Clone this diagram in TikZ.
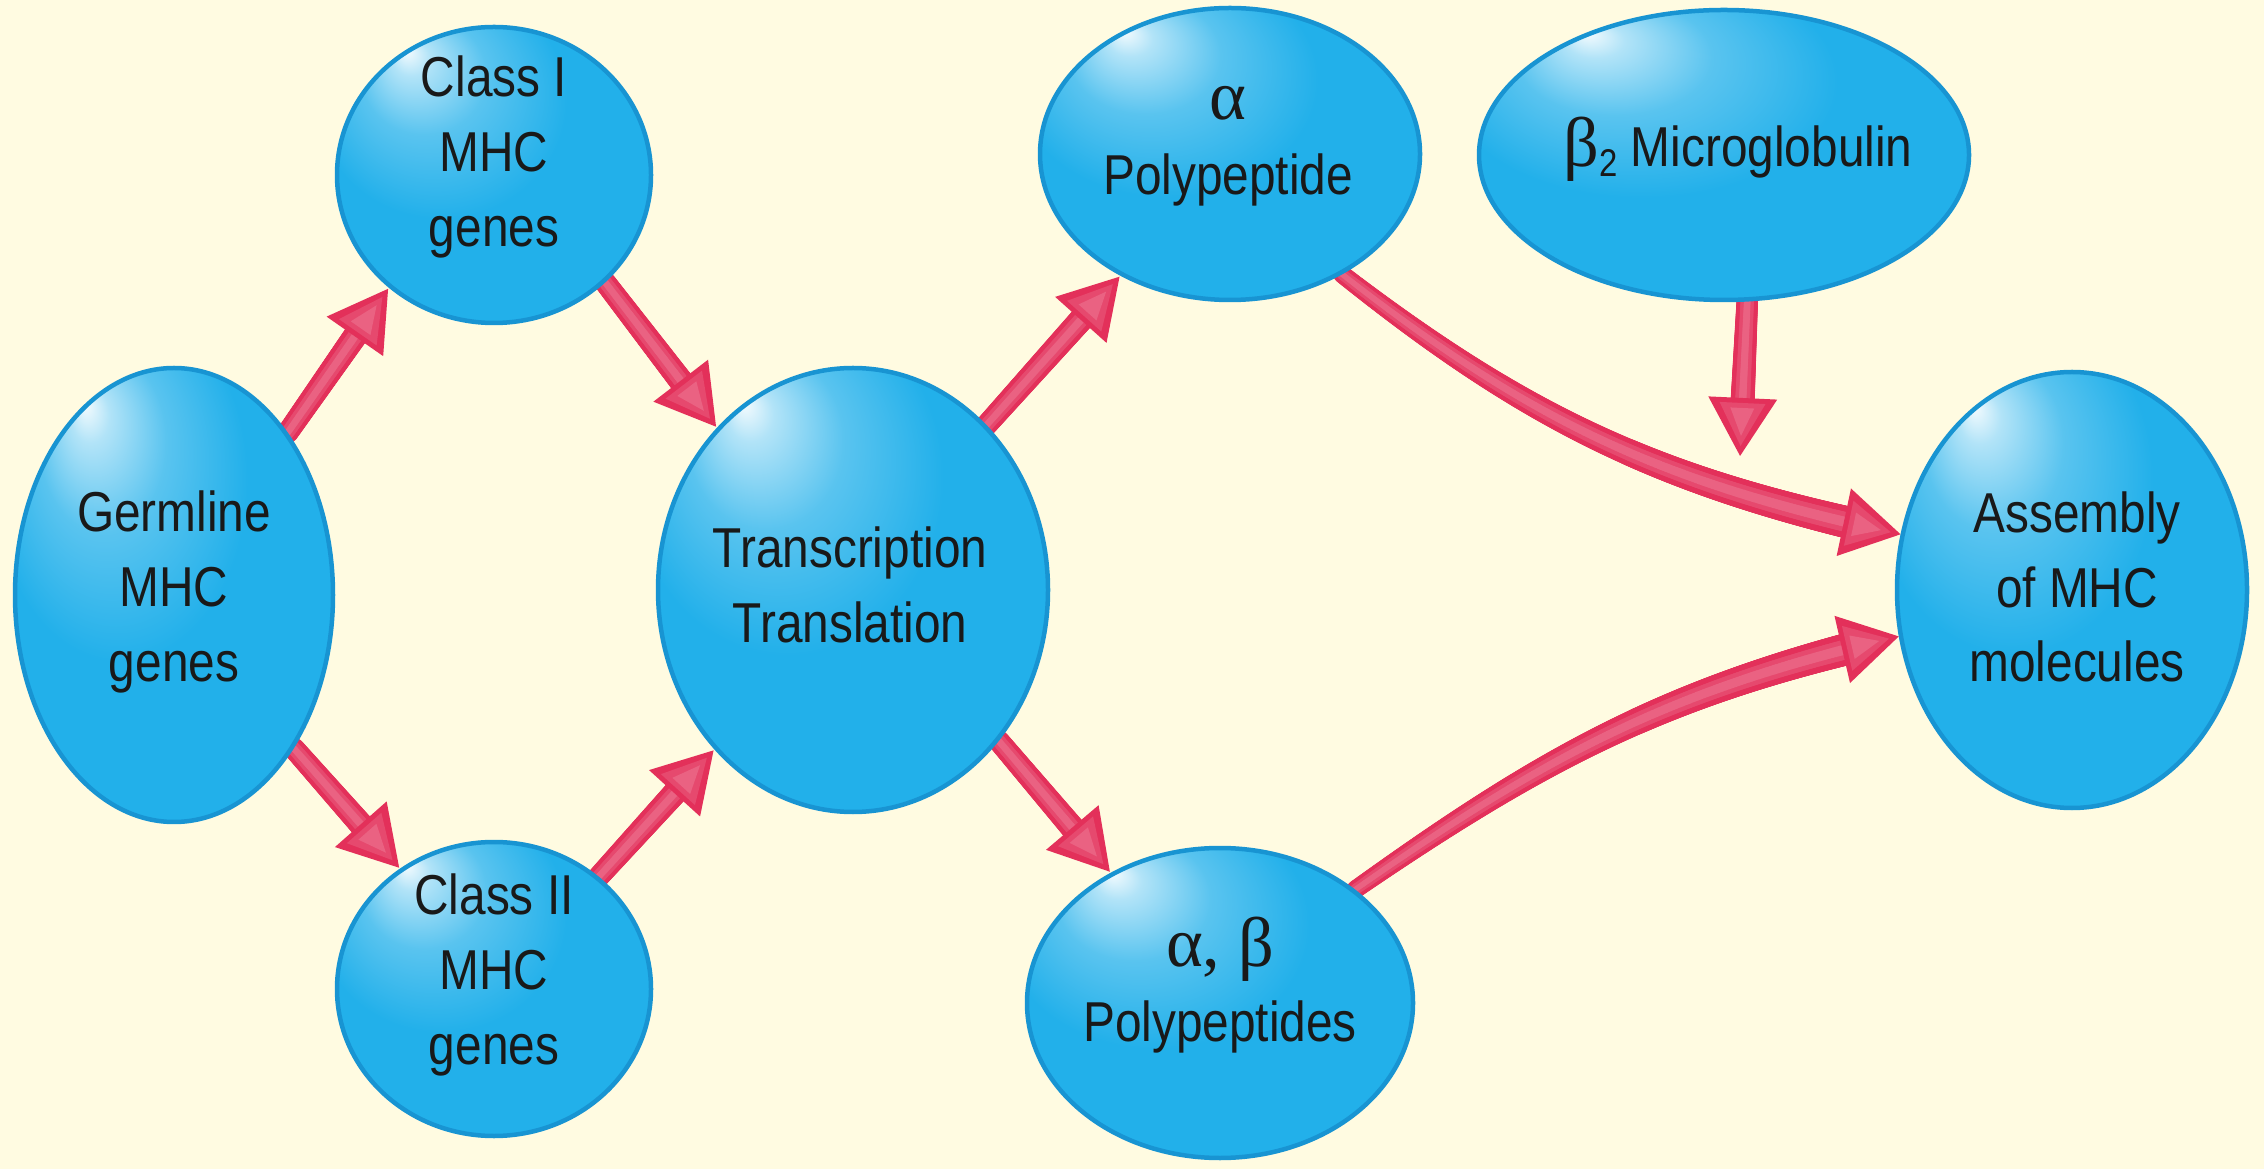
\documentclass[tikz,border=0pt]{standalone}
\usepackage{fontspec}
\setmainfont{Liberation Sans}[FakeStretch=0.85]
\newfontfamily\grk{Liberation Serif}
\usetikzlibrary{shapes.geometric,decorations.markings}
\definecolor{bgc}{HTML}{FFFBE1}
\definecolor{bub}{HTML}{22B0EA}
\definecolor{bubedge}{HTML}{1894D2}
\definecolor{arr}{HTML}{E3305A}
\colorlet{arrmid}{arr!88!white}
\colorlet{arrlight}{arr!76!white}
\pgfdeclareradialshading{bubble}{\pgfpoint{-14bp}{21bp}}{color(0bp)=(bub!5!white); color(3bp)=(bub!35!white); color(10bp)=(bub!75!white); color(20bp)=(bub); color(50bp)=(bub)}
\pgfdeclarelayer{back}
\pgfsetlayers{back,main}
\newcommand{\taperdot}[4]{%
  \pgfmathsetmacro\rr{#3*(#1+(#2-#1)*\pgfkeysvalueof{/pgf/decoration/mark info/distance from start}/\pgfdecoratedpathlength)}%
  \fill[#4] (0,0) circle (\rr cm);}
\newcommand{\headfill}{%
  \fill[arr] (0,0) -- (-0.58cm,0.345cm) -- (-0.58cm,-0.345cm) -- cycle;
  \fill[arrmid] (-0.10cm,0) -- (-0.53cm,0.23cm) -- (-0.53cm,-0.23cm) -- cycle;
  \fill[arrlight] (-0.20cm,0) -- (-0.48cm,0.12cm) -- (-0.48cm,-0.12cm) -- cycle;}
\tikzset{
  bubblenode/.style={ellipse, draw=bubedge, line width=0.045cm, shading=bubble, inner sep=0pt},
  lbl/.style={align=center, font=\fontsize{16}{21.3}\selectfont, text=black!90, inner sep=0pt},
  shaft/.style 2 args={
    postaction={decorate, decoration={markings,
      mark=between positions 0 and -0.42cm step 0.015cm with {\taperdot{#1}{#2}{1}{arr}}}},
    postaction={decorate, decoration={markings,
      mark=between positions 0 and -0.42cm step 0.015cm with {\taperdot{#1}{#2}{0.62}{arrmid}}}},
    postaction={decorate, decoration={markings,
      mark=between positions 0 and -0.42cm step 0.015cm with {\taperdot{#1}{#2}{0.32}{arrlight}}}}},
  withhead/.style={postaction={decorate, decoration={markings,
      mark=at position -0.3pt with {\headfill}}}},
  fat/.style={shaft={0.108}{0.128}, withhead},
  fatcurve/.style={shaft={0.09}{0.168}},
}
% curved connector: start, out angle, in angle, end
\newcommand{\curvedarrow}[4]{%
  \path[fatcurve] (#1) to[out=#2, in=#3] (#4);
  \begin{scope}[shift={(#4)}, rotate=#3+180]\headfill\end{scope}}
\newcommand{\grkbig}[1]{{\grk\fontsize{20}{21.3}\selectfont #1}}
\begin{document}
\begin{tikzpicture}[x=1cm,y=1cm]
\useasboundingbox (0,0) rectangle (22.64,11.69);
\begin{pgfonlayer}{back}
\fill[bgc] (0,0) rectangle (22.64,11.69);
\end{pgfonlayer}

% ellipses
\node[bubblenode, minimum width=3.18cm, minimum height=4.54cm] (germ) at (1.74,5.74) {};
\node[bubblenode, minimum width=3.14cm, minimum height=2.96cm] (c1) at (4.94,9.94) {};
\node[bubblenode, minimum width=3.14cm, minimum height=2.94cm] (c2) at (4.94,1.80) {};
\node[bubblenode, minimum width=3.90cm, minimum height=4.44cm] (tt) at (8.53,5.79) {};
\node[bubblenode, minimum width=3.80cm, minimum height=2.92cm] (a) at (12.30,10.15) {};
\node[bubblenode, minimum width=4.90cm, minimum height=2.90cm] (b2) at (17.24,10.14) {};
\node[bubblenode, minimum width=3.86cm, minimum height=3.10cm] (ab) at (12.20,1.66) {};
\node[bubblenode, minimum width=3.50cm, minimum height=4.36cm] (asm) at (20.72,5.79) {};

% labels
\node[lbl] (germ-t) at (1.74,5.77) {Germline\\MHC\\genes};
\node[lbl] (c1-t) at (4.94,10.12) {Class I\\MHC\\genes};
\node[lbl] (c2-t) at (4.94,1.94) {Class II\\MHC\\genes};
\node[lbl] (tt-t) at (8.50,5.84) {Transcription\\Translation};
\node[lbl] (a-t) at (12.28,10.23) {\grkbig{α}\\Polypeptide};
\node[lbl] (b2-t) at (17.38,10.20) {\grkbig{β}\raisebox{-0.35ex}{\fontsize{11}{11}\selectfont 2} Microglobulin};
\node[lbl] (ab-t) at (12.20,1.84) {\grkbig{α, β}\\Polypeptides};
\node[lbl] (asm-t) at (20.77,5.82) {Assembly\\of MHC\\molecules};

\coordinate (b2tip) at (17.40,7.12);

% arrows (behind the ellipses)
\begin{pgfonlayer}{back}
\path[fat] (germ.55) -- (c1.227);
\path[fat] (germ.-52.6) -- (c2.128);
\path[fat] (c1.-44.8) -- (tt.130);
\path[fat] (c2.47.7) -- (tt.229.6);
\path[fat] (tt.51.1) -- (a.228.2);
\path[fat] (tt.-46.5) -- (ab.130.5);
\curvedarrow{a.-47}{-38}{168}{asm.162.7}
\curvedarrow{ab.40}{35}{193}{asm.195.3}
\path[fat] (b2.-81) -- (b2tip);
\end{pgfonlayer}
\end{tikzpicture}
\end{document}
